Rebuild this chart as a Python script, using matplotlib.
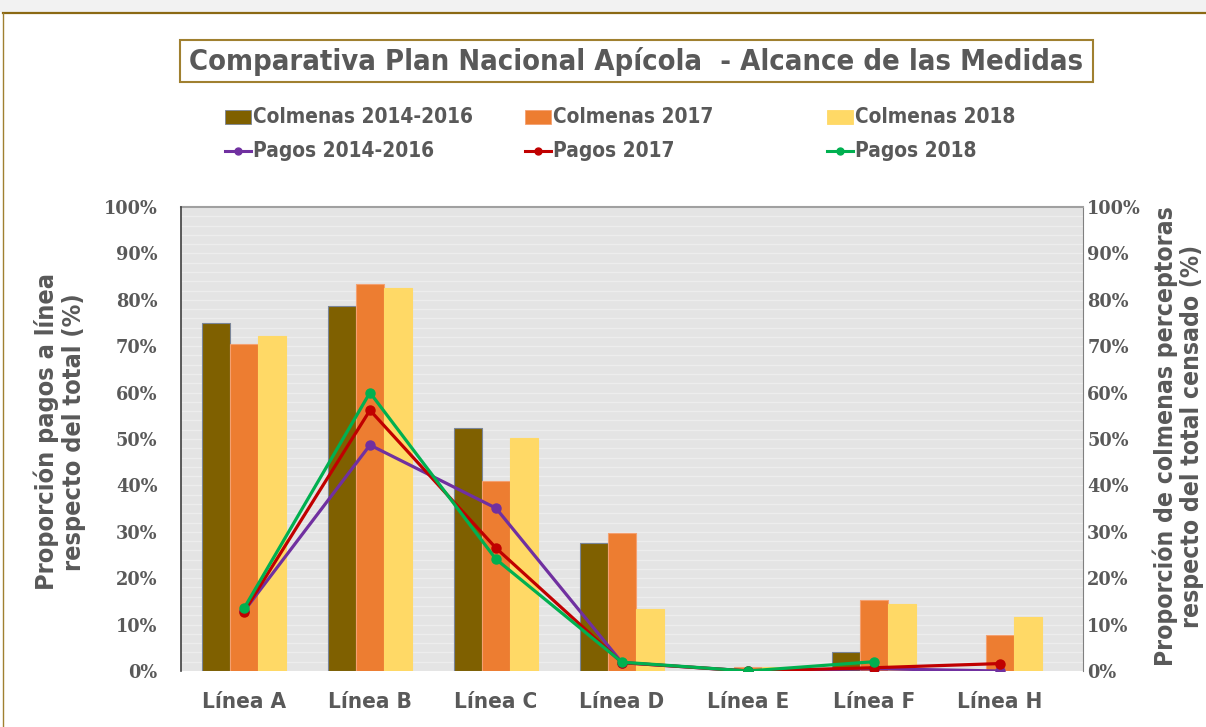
import numpy as np
import matplotlib
matplotlib.use("Agg")
import matplotlib.pyplot as plt
from matplotlib import font_manager as fm
from matplotlib.patches import Rectangle
from matplotlib.lines import Line2D
from matplotlib.ticker import FixedLocator, FuncFormatter

categories = ["Línea A", "Línea B", "Línea C", "Línea D", "Línea E", "Línea F", "Línea H"]
colmenas_2014_2016 = [74.9, 78.7, 52.4, 27.5, 0.0, 4.0, 0.0]
colmenas_2017 = [70.5, 83.4, 40.9, 29.7, 0.8, 15.4, 7.8]
colmenas_2018 = [72.2, 82.6, 50.2, 13.4, 0.8, 14.4, 11.6]
pagos_2014_2016 = [12.9, 48.7, 35.1, 1.8, 0.0, 0.5, 0.0]
pagos_2017 = [12.8, 56.2, 26.5, 1.8, 0.0, 0.7, 1.6]
pagos_2018 = [13.5, 60.0, 24.1, 1.9, 0.0, 2.0, np.nan]
y_ticks = [0, 10, 20, 30, 40, 50, 60, 70, 80, 90, 100]

names = {f.name for f in fm.fontManager.ttflist}
cond_files = [f for f in fm.fontManager.ttflist if f.name == "DejaVu Sans" and "Condensed" in f.fname]
if "Liberation Sans Narrow" in names:
    FONTP = dict(family=["Liberation Sans Narrow", "DejaVu Sans"], fontweight="bold")
elif cond_files:
    FONTP = dict(family=["DejaVu Sans"], fontweight="bold", fontstretch="condensed")
else:
    FONTP = dict(family=["DejaVu Sans"], fontweight="bold")
GRAY = "#595959"
W, H = 1206, 727

fig = plt.figure(figsize=(12.06, 7.27), dpi=100)
fig.patch.set_facecolor("white")
renderer = fig.canvas.get_renderer()


def fit(t, target_px, horizontal=True):
    bb = t.get_window_extent(renderer)
    cur = bb.width if horizontal else bb.height
    t.set_fontsize(t.get_fontsize() * target_px / cur)
    return t


# outer decoration
fig.add_artist(Rectangle((0, 1 - 12 / H), 1, 12 / H, transform=fig.transFigure,
                         facecolor="#F2F2F2", edgecolor="none", zorder=0))
fig.add_artist(Line2D([3 / W, 1], [1 - 13 / H, 1 - 13 / H], transform=fig.transFigure,
                      color="#8B6914", lw=1.6))
fig.add_artist(Line2D([3 / W, 3 / W], [0, 1 - 13 / H], transform=fig.transFigure,
                      color="#A08030", lw=1.0))

ax = fig.add_axes([181 / W, 56 / H, 902 / W, 464 / H])
ax2 = ax.twinx()
ax.set_zorder(ax2.get_zorder() + 1)
ax.patch.set_visible(False)
ax2.patch.set_visible(True)
ax2.patch.set_facecolor("#E4E4E4")

x = np.arange(len(categories))
w = 0.222
bar_cols = ["#7F6000", "#ED7D31", "#FFD966"]
bar_edges = ["#7A8599", "#F4A070", "#FFD966"]
bar_labels = ["Colmenas 2014-2016", "Colmenas 2017", "Colmenas 2018"]
for i, (vals, c, ec) in enumerate(zip(
        [colmenas_2014_2016, colmenas_2017, colmenas_2018], bar_cols, bar_edges)):
    ax2.bar(x + (i - 1) * w, vals, width=w, color=c, edgecolor=ec, linewidth=0.8, zorder=3)

for v in np.arange(0, 101, 2):
    ax2.axhline(v, color="#EDEDED", lw=1.0, zorder=1)

line_cols = ["#7030A0", "#C00000", "#00B050"]
line_labels = ["Pagos 2014-2016", "Pagos 2017", "Pagos 2018"]
for vals, c in zip([pagos_2014_2016, pagos_2017, pagos_2018], line_cols):
    ax.plot(x, vals, color=c, lw=2.3, marker="o", markersize=6.5, zorder=5)

for a in (ax, ax2):
    a.set_ylim(0, 100)
    a.set_xlim(-0.5, 6.66)
    a.yaxis.set_major_locator(FixedLocator(y_ticks))
    a.yaxis.set_major_formatter(FuncFormatter(lambda v, p: f"{int(v)}%"))
    a.tick_params(axis="y", length=0, labelsize=12.8, labelcolor=GRAY)
    for s in a.spines.values():
        s.set_visible(False)
ax.tick_params(axis="y", pad=17)
ax2.tick_params(axis="y", pad=3)

for lab in ax.get_yticklabels() + ax2.get_yticklabels():
    lab.set_fontfamily(["DejaVu Serif"])
    lab.set_fontweight("bold")

ax.spines["left"].set_visible(True)
ax.spines["left"].set_color("#404040")
ax.spines["left"].set_linewidth(1.2)
ax2.spines["right"].set_visible(True)
ax2.spines["right"].set_color("#808080")
ax2.spines["top"].set_visible(True)
ax2.spines["top"].set_color("#A0A0A0")
ax2.spines["top"].set_linewidth(1.5)

ax.set_xticks(x)
ax.set_xticklabels(categories, color=GRAY, fontsize=19, **FONTP)
ax.tick_params(axis="x", length=0, pad=15)
fig.canvas.draw()
t0 = ax.get_xticklabels()[0]
sz = t0.get_fontsize() * 84 / t0.get_window_extent(renderer).width
for t in ax.get_xticklabels():
    t.set_fontsize(sz)

# y labels drawn as figure texts for precise placement
yl1 = fig.text(60 / W, 1 - 432 / H, "Proporción pagos a línea\nrespecto del total (%)",
               rotation=90, ha="center", va="center", color=GRAY, fontsize=21,
               linespacing=1.15, multialignment="center", **FONTP)
fit(yl1, 316, horizontal=False)
yl2 = fig.text(1178 / W, 1 - 436 / H, "Proporción de colmenas perceptoras\nrespecto del total censado (%)",
               rotation=90, ha="center", va="center", color=GRAY, fontsize=21,
               linespacing=1.08, multialignment="center", **FONTP)
fit(yl2, 460, horizontal=False)

# title box
tt = fig.text(0.5 * (180 + 1093) / W, 1 - 61 / H,
              "Comparativa Plan Nacional Apícola  - Alcance de las Medidas",
              ha="center", va="center", fontsize=25, color=GRAY, **FONTP)
fit(tt, 898)
fig.add_artist(Rectangle((180 / W, 1 - 82 / H), 913 / W, 42 / H, transform=fig.transFigure,
                         facecolor="none", edgecolor="#A08030", lw=1.5))

# legend (manual layout)
col_x = [225, 525, 827]
row_y = [117, 151]
leg_size = None
for j in range(3):
    y = 1 - row_y[0] / H
    fig.add_artist(Rectangle((col_x[j] / W, y - 7 / H), 26 / W, 14 / H, transform=fig.transFigure,
                             facecolor=bar_cols[j], edgecolor=bar_edges[j], lw=0.6))
    t = fig.text((col_x[j] + 28) / W, y, bar_labels[j], ha="left", va="center",
                 color=GRAY, fontsize=18, **FONTP)
    if leg_size is None:
        fit(t, 220)
        leg_size = t.get_fontsize()
    else:
        t.set_fontsize(leg_size)
    y = 1 - row_y[1] / H
    fig.add_artist(Line2D([col_x[j] / W, (col_x[j] + 26) / W], [y, y], transform=fig.transFigure,
                          color=line_cols[j], lw=2.2))
    fig.add_artist(Line2D([(col_x[j] + 13) / W], [y], transform=fig.transFigure,
                          color=line_cols[j], marker="o", markersize=5))
    fig.text((col_x[j] + 28) / W, y, line_labels[j], ha="left", va="center",
             color=GRAY, fontsize=leg_size, **FONTP)

fig.savefig("out.png", dpi=100)
